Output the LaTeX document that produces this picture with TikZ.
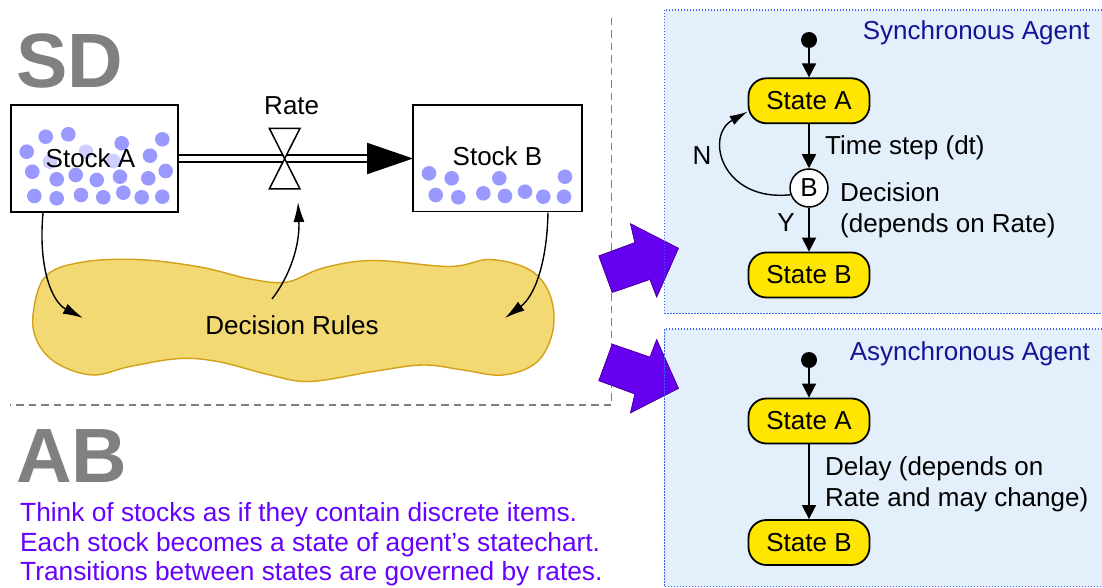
\documentclass[tikz,border=0pt]{standalone}
\usepackage{fontspec}
\setmainfont{Liberation Sans}
\usetikzlibrary{arrows.meta}
\definecolor{dotc}{RGB}{153,153,255}
\definecolor{dotl}{RGB}{206,206,255}
\definecolor{blobfill}{RGB}{243,217,116}
\definecolor{blobdraw}{RGB}{212,160,23}
\definecolor{panelfill}{RGB}{227,240,252}
\definecolor{paneldraw}{RGB}{60,100,240}
\definecolor{purp}{RGB}{102,0,240}
\definecolor{purpd}{RGB}{80,0,170}
\definecolor{txtpurp}{RGB}{102,0,255}
\definecolor{navyt}{RGB}{20,20,150}
\definecolor{stateyel}{RGB}{255,230,0}
\definecolor{sdgray}{RGB}{128,128,128}
\begin{document}
\begin{tikzpicture}[x=1pt,y=-1pt,
  lbl/.style={font=\fontsize{26}{31}\selectfont, inner sep=0pt},
  big/.style={font=\fontsize{77}{80}\selectfont\bfseries, text=sdgray, inner sep=0pt},
  stockbox/.style={draw, line width=1.8pt, inner sep=0pt},
  statebox/.style={draw, line width=1.8pt, fill=stateyel, rounded corners=18pt,
     minimum width=121pt, minimum height=45pt, inner sep=0pt, font=\fontsize{26}{31}\selectfont},
  initdot/.style={circle, fill=black, inner sep=0pt, minimum size=16pt},
  decis/.style={circle, draw, line width=1.5pt, fill=white, minimum size=38pt, inner sep=0pt,
     font=\fontsize{26}{31}\selectfont},
  trans/.style={line width=1.6pt, -{Triangle[length=14pt,width=14pt]}},
  infl/.style={line width=1.4pt, -{Latex[length=20pt,width=11pt]}},
  sep/.style={draw=sdgray, line width=1.5pt, dash pattern=on 7.5pt off 5pt},
  panelb/.style={draw=paneldraw, line width=1.2pt, dash pattern=on 1.2pt off 1.8pt},
  bigarrow/.style={fill=purp, draw=purpd, line width=0.8pt, line join=miter},
  abline/.style={anchor=base west, inner sep=0pt, text=txtpurp, font=\fontsize{26.3}{29.5}\selectfont}
]
\useasboundingbox (0,0) rectangle (1102,588);
\fill[white] (0,0) rectangle (1102,588);

% panels (fill)
\fill[panelfill] (664.3,10) rectangle (1102,313.3);
\fill[panelfill] (664.3,329) rectangle (1102,586.7);

% separators
\draw[sep] (611.7,18) -- (611.7,405) -- (10,405);

% titles
\node[big, anchor=base west] (sd) at (16,88) {SD};
\node[big, anchor=base west] (ab) at (16,482) {AB};

% decision rules blob
\draw[fill=blobfill, draw=blobdraw, line width=1.4pt]
  plot[smooth cycle, tension=0.6] coordinates {
  (33,315) (45,277) (80,262.5) (137,259.5) (200,267) (250,279) (287,282)
  (323,268) (373,260.5) (450,266.5) (490,259.5) (530,270) (550,295) (553,330)
  (537,362) (503,375) (463,370) (423,365) (373,371.5) (310,381.5) (270,375)
  (220,362) (180,358.5) (130,366.5) (93,375) (58,364) (38,343)};
\node[lbl, anchor=base] (rules) at (292,334) {Decision Rules};

% stocks
\node[stockbox, minimum width=167pt, minimum height=107pt] (stA) at (94.5,158.5) {};
\node[stockbox, minimum width=169pt, minimum height=106.5pt] (stB) at (497.5,158.25) {};
\foreach \p in {(45.7,136.7),(68.3,134.3),(121.7,143.3),(162.3,139.3),(26.7,151.7),
  (150,155.7),(32.3,171.7),(56.7,179.3),(75.7,175),(96.7,180),(120,176.7),(148.3,178.3),
  (165.7,171),(34.3,196),(56.7,198.3),(81,195),(103.3,197.3),(123.3,192.7),(141.7,197.3),
  (162.3,196.7),
  (429,173.3),(451.7,178.3),(499.3,178.3),(565,176.7),(435.7,195),(458.3,197.3),
  (483.3,193.3),(505,196),(525,191.7),(543.3,196.7),(564,196.7)}
  \fill[dotc] \p circle (7.3pt);
\foreach \p in {(86,151.7),(50,161.7),(113.3,161)}
  \fill[dotl] \p circle (7.3pt);
\node[lbl, anchor=base] (labA) at (90.5,167.3) {Stock A};
\node[lbl, anchor=base] (labB) at (497.5,166) {Stock B};

% flow pipe
\draw[line width=1.6pt, double=white, double distance=5pt] (stA.east |- 0,158.5) -- (369,158.5);
\fill[black] (367,142.7) -- (413,158.5) -- (367,174.3) -- cycle;
% valve
\coordinate (valve) at (284.7,158.7);
\draw[line width=1.5pt, fill=white, line join=miter]
  (269.3,128.3) -- (300,128.3) -- (269.3,189) -- (300,189) -- cycle;
\node[lbl, anchor=base] (rate) at (291.7,115) {Rate};

% influence arrows
\coordinate (a1s) at (43,213);
\coordinate (a1e) at (83,318);
\coordinate (a2s) at (272,299);
\coordinate (a2e) at (298,202);
\coordinate (a3s) at (548,212.5);
\coordinate (a3e) at (505,318);
\draw[infl] (a1s) .. controls (38,268) and (52,302) .. (a1e);
\draw[infl] (a2s) .. controls (290,276) and (300,245) .. (a2e);
\draw[infl] (a3s) .. controls (547,262) and (535,296) .. (a3e);

% purple arrows
\fill[bigarrow] (599,256) -- (612.3,292.3) -- (650,279.3) -- (656.7,296.7) -- (678.3,248.3)
  -- (630.7,224) -- (635,242.7) -- cycle;
\fill[bigarrow] (599,380.6) -- (612.3,344.3) -- (650,357.3) -- (656.7,339.9) -- (678.3,388.3)
  -- (630.7,412.6) -- (635,393.9) -- cycle;
\draw[bigarrow] (599,256) -- (612.3,292.3) -- (650,279.3) -- (656.7,296.7) -- (678.3,248.3)
  -- (630.7,224) -- (635,242.7) -- cycle;
\draw[bigarrow] (599,380.6) -- (612.3,344.3) -- (650,357.3) -- (656.7,339.9) -- (678.3,388.3)
  -- (630.7,412.6) -- (635,393.9) -- cycle;

% panel borders
\draw[panelb] (1102,10) -- (664.3,10) -- (664.3,313.3) -- (1102,313.3);
\draw[panelb] (1102,329) -- (664.3,329) -- (664.3,586.7) -- (1102,586.7);

% synchronous agent
\node[lbl, text=navyt, anchor=east] (synt) at (1090,33) {Synchronous Agent};
\node[initdot] (si) at (809,40) {};
\node[statebox] (sA) at (809,100.8) {State A};
\node[decis] (sB) at (809,188) {B};
\node[statebox] (sS) at (809,275) {State B};
\draw[trans] (si) -- (sA);
\draw[trans] (sA) -- (sB);
\draw[trans] (sB) -- (sS);
\draw[line width=1.4pt, -{Latex[length=18pt,width=10pt]}] (sB.200) .. controls (722,202) and (704,136) .. (sA.190);
\node[lbl, anchor=west] (tstep) at (825,148) {Time step (dt)};
\node[lbl, anchor=north west, align=left] (dec) at (840,182) {Decision\\(depends on Rate)};
\node[lbl] (ylab) at (786,223) {Y};
\node[lbl] (nlab) at (702,156) {N};

% asynchronous agent
\node[lbl, text=navyt, anchor=east] (asynt) at (1090,353.3) {Asynchronous Agent};
\node[initdot] (ai) at (809,360) {};
\node[statebox] (aA) at (809,421) {State A};
\node[statebox] (aS) at (809,542.5) {State B};
\draw[trans] (ai) -- (aA);
\draw[trans] (aA) -- (aS);
\node[lbl, anchor=north west, align=left] (delay) at (825,456) {Delay (depends on\\Rate and may change)};

% AB text
\node[abline] (ab1) at (20,521.7) {Think of stocks as if they contain discrete items.};
\node[abline] (ab2) at (20,551.2) {Each stock becomes a state of agent’s statechart.};
\node[abline] (ab3) at (20,580.7) {Transitions between states are governed by rates.};
\end{tikzpicture}
\end{document}
